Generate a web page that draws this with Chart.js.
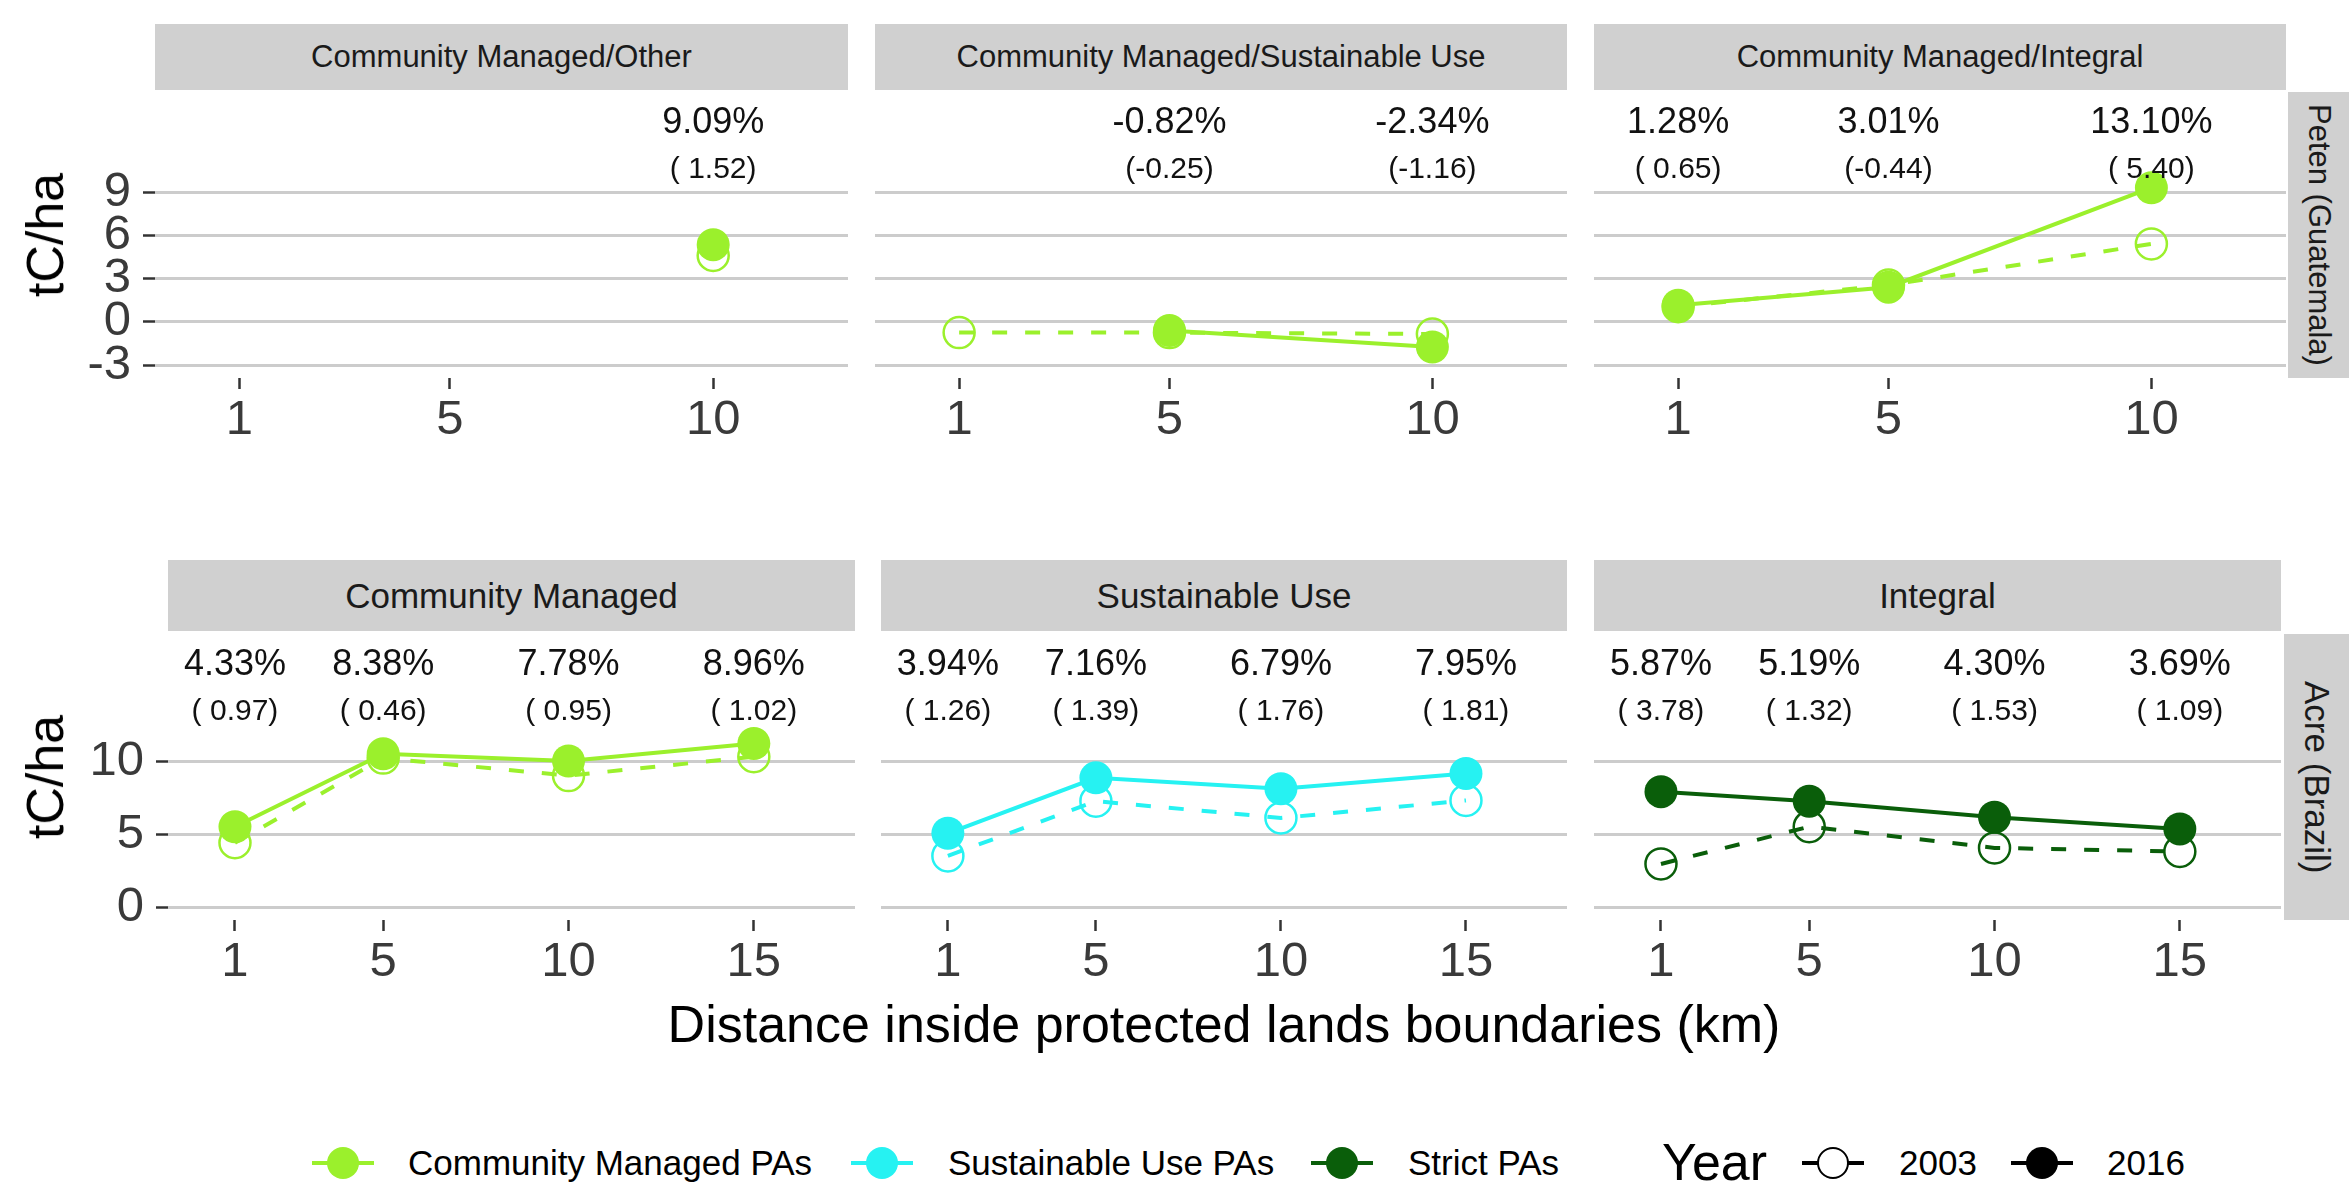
<!DOCTYPE html>
<html>
<head>
<meta charset="utf-8">
<title>Carbon change inside protected lands</title>
<script src="https://cdn.jsdelivr.net/npm/chart.js@4.4.1/dist/chart.umd.min.js"></script>
<style>
  html, body { margin: 0; padding: 0; background: #fff; }
  body {
    width: 2349px; height: 1185px; position: relative; overflow: hidden;
    font-family: "Liberation Sans", Arial, Helvetica, sans-serif; color: #1a1a1a;
  }
  canvas { position: absolute; }
  .strip {
    position: absolute; background: #d0d0d0; color: #1a1a1a;
    display: flex; align-items: center; justify-content: center; white-space: nowrap;
  }
  .strip.side { writing-mode: vertical-rl; }
  .ytitle {
    position: absolute; font-size: 52px; line-height: 1; color: #000; white-space: nowrap;
    transform: translate(-50%, -50%) rotate(-90deg);
  }
  .xtitle {
    position: absolute; font-size: 52px; line-height: 1; color: #000; white-space: nowrap;
    transform: translateX(-50%);
  }
  .key { position: absolute; width: 62px; height: 34px; top: 1146px; }
  .key .ln { position: absolute; left: 0; right: 0; top: 15px; height: 4px; }
  .key .dot {
    position: absolute; left: 15px; top: 1px; width: 32px; height: 32px;
    border-radius: 50%; box-sizing: border-box;
  }
  .key .dot.open { background: #fff; border: 2.5px solid #000; }
  .lt { position: absolute; font-size: 35px; line-height: 1; top: 1145px; color: #000; white-space: nowrap; }
  .lt.big { font-size: 52px; top: 1136px; }
</style>
</head>
<body>
<div id="root"></div>
<script>
const FONT = '"Liberation Sans", Arial, Helvetica, sans-serif';

// distances (km) sampled in each region
const petenDistances = [1, 5, 10];
const acreDistances = [1, 5, 10, 15];
const petenYTicks = [-3, 0, 3, 6, 9];
const acreYTicks = [0, 5, 10];

// Peten (Guatemala) - tC/ha per year
const cmOther2003 = [null, null, 4.6];
const cmOther2016 = [null, null, 5.35];
const cmOtherPct = [null, null, 9.09];
const cmOtherSe = [null, null, 1.52];

const cmSustainable2003 = [-0.75, -0.75, -0.85];
const cmSustainable2016 = [null, -0.6, -1.75];
const cmSustainablePct = [null, -0.82, -2.34];
const cmSustainableSe = [null, -0.25, -1.16];

const cmIntegral2003 = [1.05, 2.55, 5.4];
const cmIntegral2016 = [1.15, 2.4, 9.3];
const cmIntegralPct = [1.28, 3.01, 13.10];
const cmIntegralSe = [0.65, -0.44, 5.40];

// Acre (Brazil)
const community2003 = [4.4, 10.2, 9.0, 10.3];
const community2016 = [5.5, 10.5, 10.0, 11.2];
const communityPct = [4.33, 8.38, 7.78, 8.96];
const communitySe = [0.97, 0.46, 0.95, 1.02];

const sustainable2003 = [3.5, 7.25, 6.1, 7.3];
const sustainable2016 = [5.05, 8.85, 8.1, 9.15];
const sustainablePct = [3.94, 7.16, 6.79, 7.95];
const sustainableSe = [1.26, 1.39, 1.76, 1.81];

const integral2003 = [2.95, 5.5, 4.05, 3.8];
const integral2016 = [7.9, 7.25, 6.15, 5.35];
const integralPct = [5.87, 5.19, 4.30, 3.69];
const integralSe = [3.78, 1.32, 1.53, 1.09];

const COMMUNITY = "#9bf02c";
const SUSTAINABLE = "#26f2f2";
const STRICT = "#0a5e0a";

const root = document.getElementById("root");

function addDiv(cls, text, style) {
  const el = document.createElement("div");
  el.className = cls;
  el.textContent = text;
  Object.assign(el.style, style);
  root.appendChild(el);
  return el;
}

function formatSe(v) {
  return v < 0 ? `(${v.toFixed(2)})` : `( ${v.toFixed(2)})`;
}

// percentage change and its spread, written above every distance
const changeLabels = {
  id: "changeLabels",
  afterDatasetsDraw(chart, args, opts) {
    const { ctx, chartArea } = chart;
    const xScale = chart.scales.x;
    ctx.save();
    ctx.fillStyle = "#111";
    ctx.textAlign = "center";
    ctx.textBaseline = "middle";
    opts.distances.forEach((d, i) => {
      if (opts.pct[i] == null) return;
      const x = xScale.getPixelForValue(d);
      ctx.font = `36px ${FONT}`;
      ctx.fillText(`${opts.pct[i].toFixed(2)}%`, x, chartArea.top + 31);
      ctx.font = `30px ${FONT}`;
      ctx.fillText(formatSe(opts.se[i]), x, chartArea.top + 78);
    });
    ctx.restore();
  },
};

function points(distances, values) {
  return distances.map((d, i) => ({ x: d, y: values[i] }));
}

function drawPanel(p) {
  const axisW = p.showY ? p.left : 0;
  const canvas = document.createElement("canvas");
  canvas.width = axisW + (p.right - p.left);
  canvas.height = p.height + 84;
  canvas.style.left = `${p.showY ? 0 : p.left}px`;
  canvas.style.top = `${p.top}px`;
  root.appendChild(canvas);

  new Chart(canvas, {
    type: "line",
    data: {
      datasets: [
        {
          data: points(p.distances, p.y2016),
          borderColor: p.color,
          backgroundColor: p.color,
          borderWidth: 4,
          pointRadius: 16.5,
          pointHoverRadius: 16.5,
          pointBorderWidth: 0,
          pointBackgroundColor: p.color,
        },
        {
          data: points(p.distances, p.y2003),
          borderColor: p.color,
          borderWidth: 4,
          borderDash: [15, 18],
          pointRadius: 15.5,
          pointHoverRadius: 15.5,
          pointBorderWidth: 2.5,
          pointBorderColor: p.color,
          pointBackgroundColor: "rgba(255,255,255,0)",
        },
      ],
    },
    options: {
      responsive: false,
      devicePixelRatio: 1,
      animation: false,
      events: [],
      layout: { padding: 0, autoPadding: false },
      plugins: {
        legend: { display: false },
        tooltip: { enabled: false },
        changeLabels: { distances: p.distances, pct: p.pct, se: p.se },
      },
      scales: {
        x: {
          type: "linear",
          min: p.xMin,
          max: p.xMax,
          afterBuildTicks: (axis) => {
            axis.ticks = p.distances.map((v) => ({ value: v }));
          },
          afterFit: (axis) => {
            axis.height = 84;
            axis.paddingLeft = 0;
            axis.paddingRight = 0;
          },
          border: { display: false },
          grid: {
            drawOnChartArea: false,
            drawTicks: true,
            tickLength: 11,
            tickWidth: 2.5,
            tickColor: "#333",
          },
          ticks: {
            padding: 2,
            color: "#3a3a3a",
            font: { size: 49, family: FONT },
            maxRotation: 0,
            autoSkip: false,
            callback: (v) => String(v),
          },
        },
        y: {
          type: "linear",
          min: p.yMin,
          max: p.yMax,
          afterBuildTicks: (axis) => {
            axis.ticks = p.yTicks.map((v) => ({ value: v }));
          },
          afterFit: (axis) => {
            axis.width = axisW;
            axis.paddingTop = 0;
            axis.paddingBottom = 0;
          },
          border: { display: false },
          grid: {
            color: "#cccccc",
            lineWidth: 3,
            drawTicks: p.showY,
            tickLength: 12,
            tickWidth: 2.5,
            tickColor: "#333",
          },
          ticks: {
            display: p.showY,
            padding: 12,
            color: "#3a3a3a",
            font: { size: 49, family: FONT },
            autoSkip: false,
            callback: (v) => String(v),
          },
        },
      },
    },
    plugins: [changeLabels],
  });
}

// upper row: Peten (Guatemala)
const petenRow = { top: 92, height: 286, xMin: -0.6, xMax: 12.56, yMin: -3.9, yMax: 15.94 };
const petenPanels = [
  { title: "Community Managed/Other", left: 155, right: 848, y2003: cmOther2003, y2016: cmOther2016, pct: cmOtherPct, se: cmOtherSe },
  { title: "Community Managed/Sustainable Use", left: 875, right: 1567, y2003: cmSustainable2003, y2016: cmSustainable2016, pct: cmSustainablePct, se: cmSustainableSe },
  { title: "Community Managed/Integral", left: 1594, right: 2286, y2003: cmIntegral2003, y2016: cmIntegral2016, pct: cmIntegralPct, se: cmIntegralSe },
];
petenPanels.forEach((panel, i) => {
  addDiv("strip", panel.title, {
    left: `${panel.left}px`, top: "24px", width: `${panel.right - panel.left}px`, height: "66px", fontSize: "31px",
  });
  drawPanel({
    ...petenRow, ...panel, showY: i === 0, color: COMMUNITY,
    distances: petenDistances, yTicks: petenYTicks,
  });
});
addDiv("strip side", "Peten (Guatemala)", { left: "2288px", top: "92px", width: "61px", height: "286px", fontSize: "31px" });
addDiv("ytitle", "tC/ha", { left: "45px", top: "235px" });

// lower row: Acre (Brazil)
const acreRow = { top: 634, height: 286, xMin: -0.807, xMax: 17.73, yMin: -0.89, yMax: 18.7 };
const acrePanels = [
  { title: "Community Managed", left: 168, right: 855, color: COMMUNITY, y2003: community2003, y2016: community2016, pct: communityPct, se: communitySe },
  { title: "Sustainable Use", left: 881, right: 1567, color: SUSTAINABLE, y2003: sustainable2003, y2016: sustainable2016, pct: sustainablePct, se: sustainableSe },
  { title: "Integral", left: 1594, right: 2281, color: STRICT, y2003: integral2003, y2016: integral2016, pct: integralPct, se: integralSe },
];
acrePanels.forEach((panel, i) => {
  addDiv("strip", panel.title, {
    left: `${panel.left}px`, top: "560px", width: `${panel.right - panel.left}px`, height: "71px", fontSize: "35px",
  });
  drawPanel({
    ...acreRow, ...panel, showY: i === 0,
    distances: acreDistances, yTicks: acreYTicks,
  });
});
addDiv("strip side", "Acre (Brazil)", { left: "2284px", top: "634px", width: "65px", height: "286px", fontSize: "35px" });
addDiv("ytitle", "tC/ha", { left: "45px", top: "777px" });

addDiv("xtitle", "Distance inside protected lands boundaries (km)", { left: "1224px", top: "998px" });

// shared legend
function addKey(left, color, open) {
  const key = document.createElement("div");
  key.className = "key";
  key.style.left = `${left}px`;
  const ln = document.createElement("span");
  ln.className = "ln";
  ln.style.background = color;
  const dot = document.createElement("span");
  dot.className = open ? "dot open" : "dot";
  if (!open) dot.style.background = color;
  key.appendChild(ln);
  key.appendChild(dot);
  root.appendChild(key);
}

addKey(312, COMMUNITY, false);
addDiv("lt", "Community Managed PAs", { left: "408px" });
addKey(851, SUSTAINABLE, false);
addDiv("lt", "Sustainable Use PAs", { left: "948px" });
addKey(1311, STRICT, false);
addDiv("lt", "Strict PAs", { left: "1408px" });
addDiv("lt big", "Year", { left: "1662px" });
addKey(1802, "#000", true);
addDiv("lt", "2003", { left: "1899px" });
addKey(2011, "#000", false);
addDiv("lt", "2016", { left: "2107px" });
</script>
</body>
</html>
